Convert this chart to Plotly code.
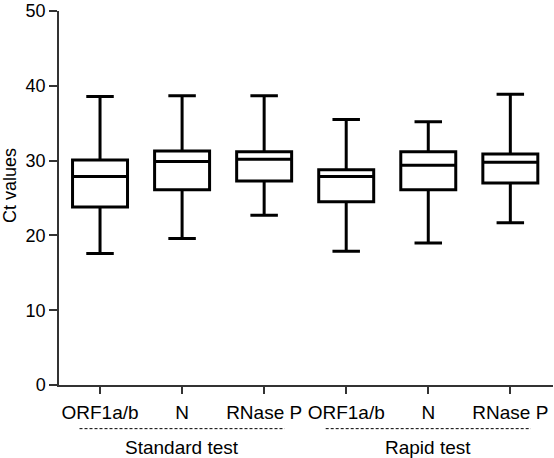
import plotly.graph_objects as go

categories = ["ORF1a/b", "N", "RNase P", "ORF1a/b", "N", "RNase P"]
groups = ["Standard test", "Rapid test"]
lower = [17.6, 19.6, 22.7, 17.9, 19.0, 21.7]
q1 = [23.8, 26.1, 27.3, 24.5, 26.1, 27.0]
median = [27.9, 29.9, 30.2, 27.9, 29.4, 29.8]
q3 = [30.1, 31.3, 31.2, 28.8, 31.2, 30.9]
upper = [38.6, 38.7, 38.7, 35.5, 35.2, 38.9]
y_ticks = [0, 10, 20, 30, 40, 50]

pos = list(range(len(categories)))
FONT = "Liberation Sans, Arial, Helvetica, sans-serif"

fig = go.Figure()
fig.add_trace(go.Box(
    x=pos, q1=q1, median=median, q3=q3, lowerfence=lower, upperfence=upper,
    width=0.67, whiskerwidth=0.5,
    fillcolor="white", line=dict(color="black", width=3),
    boxpoints=False, showlegend=False, hoverinfo="skip",
))

# group brackets (dashed) and labels
for gi, g in enumerate(groups):
    x0 = gi * 3 - 0.25
    x1 = gi * 3 + 2.25
    fig.add_shape(type="line", xref="x", yref="paper", x0=x0, x1=x1, y0=-0.1167, y1=-0.1167,
                  line=dict(color="black", width=1, dash="3px,2px"))
    fig.add_annotation(x=gi * 3 + 1, y=-0.134, xref="x", yref="paper", text=g,
                       showarrow=False, yanchor="top",
                       font=dict(size=19, color="black", family=FONT))

# y-axis title
fig.add_annotation(xref="paper", yref="paper", x=(9.5 - 59) / 494, y=(385 - 184) / 377,
                   text="Ct values", showarrow=False, textangle=-90,
                   xanchor="center", yanchor="middle",
                   font=dict(size=18, color="black", family=FONT))

fig.update_layout(
    width=554, height=458,
    margin=dict(l=59, r=1, t=8, b=73),
    plot_bgcolor="white", paper_bgcolor="white",
    font=dict(family=FONT, color="black", size=18),
    xaxis=dict(
        range=[-0.5, 5.52], tickvals=pos, ticktext=categories,
        showline=True, linecolor="#333", linewidth=1.5,
        ticks="outside", ticklen=7, tickcolor="#333", tickwidth=1.5,
        showgrid=False, zeroline=False, tickfont=dict(size=19),
        ticklabeloverflow="allow", ticklabelstandoff=2,
    ),
    yaxis=dict(
        range=[0, 50.02], tickvals=y_ticks,
        showline=True, linecolor="#333", linewidth=1.5,
        ticks="outside", ticklen=8, tickcolor="#333", tickwidth=1.5,
        showgrid=False, zeroline=False, tickfont=dict(size=18),
        ticklabeloverflow="allow",
    ),
)

fig.write_html("out.html", config={"displayModeBar": False})
with open("out.html", encoding="utf-8") as f:
    html = f.read()
html = html.replace("<body>", '<body style="margin:0;padding:0;">', 1)
html = html.replace("<head>", "<head><style>html,body{margin:0;padding:0;overflow:hidden;}</style>", 1)
with open("out.html", "w", encoding="utf-8") as f:
    f.write(html)
